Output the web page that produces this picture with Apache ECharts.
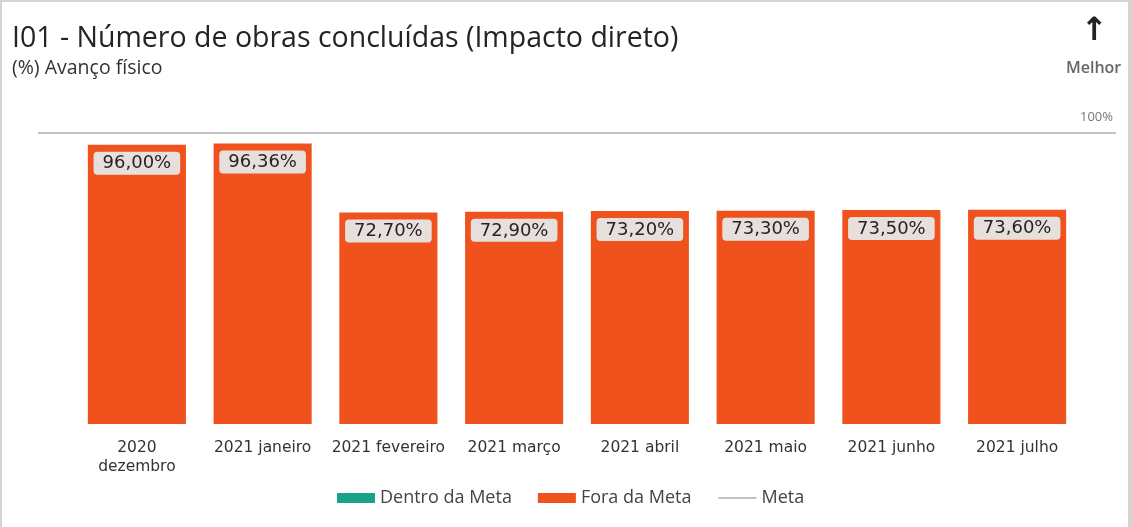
<!DOCTYPE html>
<html>
<head>
<meta charset="utf-8">
<script src="https://cdn.jsdelivr.net/npm/echarts@6/dist/echarts.min.js"></script>
<style>
  html, body { margin: 0; padding: 0; background: #fff; }
  #chart { width: 1132px; height: 527px; box-sizing: border-box; border: 2px solid #d4d4d4; border-bottom: none; border-right-width: 4px; }
</style>
</head>
<body>
<div id="chart"></div>
<script>
// dados do grafico
const meses = ['2020\ndezembro', '2021 janeiro', '2021 fevereiro', '2021 março', '2021 abril', '2021 maio', '2021 junho', '2021 julho']
const foraDaMeta = [96.00, 96.36, 72.70, 72.90, 73.20, 73.30, 73.50, 73.60]
const dentroDaMeta = [null, null, null, null, null, null, null, null]
const metaValores = [100, 100]

const chart = echarts.init(document.getElementById('chart'))

const fmt = v => v.toFixed(2).replace('.', ',') + '%'
const verdana = "'DejaVu Sans', Verdana, sans-serif"

const option = {
  animation: false,
  title: {
    text: 'I01 - Número de obras concluídas (Impacto direto)',
    subtext: '(%) Avanço físico',
    left: 5, top: 17,
    itemGap: 5,
    textStyle: { fontFamily: 'Open Sans', fontSize: 28.5, fontWeight: 'normal', color: '#252423' },
    subtextStyle: { fontFamily: 'Open Sans', fontSize: 19.5, color: '#333' }
  },
  graphic: [
    {
      type: 'text', left: 1079, top: 14,
      style: { text: '↑', font: "bold 32px 'DejaVu Sans'", fill: '#222' }
    },
    {
      type: 'text', left: 1064, top: 58,
      style: { text: 'Melhor', font: "600 16px 'Open Sans'", fill: '#666' }
    }
  ],
  legend: {
    bottom: 15,
    left: 330,
    itemWidth: 38,
    itemHeight: 10,
    itemGap: 26,
    textStyle: { fontFamily: 'Open Sans', fontSize: 18, color: '#444' },
    data: [
      { name: 'Dentro da Meta', icon: 'rect' },
      { name: 'Fora da Meta', icon: 'rect' },
      { name: 'Meta', itemStyle: { opacity: 0 } }
    ]
  },
  grid: [
    { left: 72, right: 48, top: 131, bottom: 103 },
    { left: 36, right: 12, top: 131, bottom: 103 }
  ],
  xAxis: [
    {
      type: 'category', data: meses, gridIndex: 0,
      axisLine: { show: false }, axisTick: { show: false },
      axisLabel: { fontFamily: verdana, fontSize: 15.5, color: '#333', margin: 14, lineHeight: 19.5, interval: 0 }
    },
    {
      type: 'category', data: ['a', 'b'], gridIndex: 1, boundaryGap: false, show: false
    }
  ],
  yAxis: [
    { type: 'value', min: 0, max: 100, gridIndex: 0, show: false },
    { type: 'value', min: 0, max: 100, gridIndex: 1, show: false }
  ],
  series: [
    {
      name: 'Dentro da Meta', type: 'bar', data: dentroDaMeta,
      itemStyle: { color: '#1aa189' }, barGap: '-100%'
    },
    {
      name: 'Fora da Meta', type: 'bar', data: foraDaMeta,
      barCategoryGap: '22%',
      itemStyle: { color: '#f0521e' },
      label: {
        show: true, position: 'insideTop', distance: 7,
        formatter: p => fmt(p.value),
        fontFamily: verdana, fontSize: 18, color: '#252423',
        backgroundColor: '#e6dfdc', borderRadius: 4, padding: [3, 9, 2, 9]
      }
    },
    {
      name: 'Meta', type: 'line', data: metaValores,
      xAxisIndex: 1, yAxisIndex: 1,
      symbol: 'none',
      lineStyle: { color: '#c2c2c2', width: 2 },
      itemStyle: { color: '#c2c2c2' },
      endLabel: {
        show: true, formatter: '100%', offset: [-44, -16],
        fontFamily: 'Open Sans', fontSize: 13, color: '#777'
      }
    }
  ]
}
chart.setOption(option)
</script>
</body>
</html>
